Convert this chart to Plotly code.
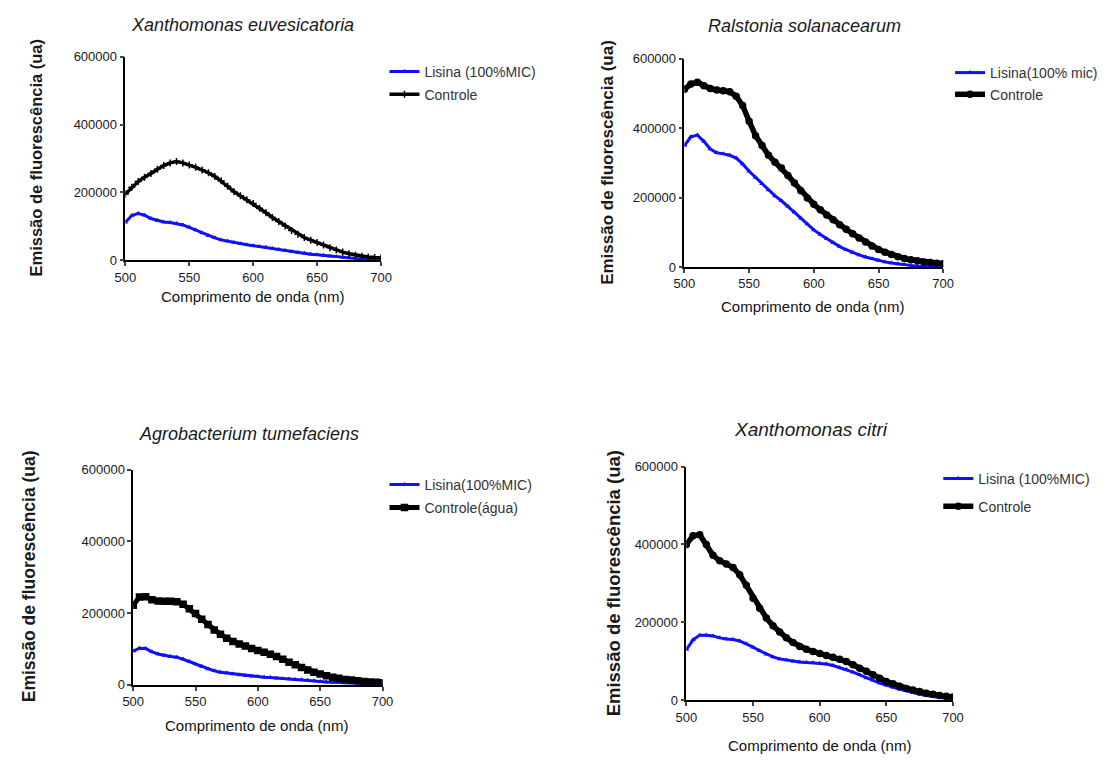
import plotly.graph_objects as go

# ---------------- data ----------------
wavelength = list(range(500, 701, 5))

# Panel 1: Xanthomonas euvesicatoria
xe_lisina = [112000, 132000, 138000, 133000, 123000, 117000, 113000, 111000, 108000, 104000,
             97000, 89000, 80000, 72000, 66000, 60000, 56000, 52000, 49000, 46000,
             43000, 40000, 38000, 35000, 32000, 29000, 26000, 23000, 21000, 18000,
             16000, 14000, 12000, 10000, 8500, 7000, 5500, 4500, 3500, 3000, 2500]
xe_controle = [195000, 215000, 232000, 245000, 256000, 268000, 279000, 287000, 291000, 287000,
               281000, 274000, 266000, 258000, 247000, 234000, 218000, 202000, 190000, 178000,
               167000, 153000, 140000, 126000, 114000, 101000, 88000, 77000, 67000, 59000,
               52000, 45000, 37000, 30000, 24000, 19000, 15000, 12000, 9500, 8000, 7000]

# Panel 2: Ralstonia solanacearum
rs_lisina = [350000, 375000, 380000, 362000, 340000, 329000, 326000, 322000, 314000, 297000,
             276000, 258000, 240000, 222000, 205000, 191000, 175000, 158000, 141000, 124000,
             107000, 94000, 82000, 70000, 59000, 50000, 42000, 35000, 29000, 24000,
             19000, 15000, 12000, 9000, 7000, 5000, 3500, 2500, 1500, 1000, 1000]
rs_controle = [512000, 527000, 532000, 522000, 514000, 510000, 508000, 505000, 492000, 465000,
               420000, 378000, 350000, 322000, 302000, 285000, 264000, 242000, 220000, 199000,
               181000, 165000, 150000, 136000, 122000, 109000, 96000, 84000, 72000, 61000,
               51000, 43000, 36000, 30000, 25000, 21000, 18000, 15000, 13000, 11000, 10000]

# Panel 3: Agrobacterium tumefaciens
at_lisina = [94000, 102000, 101000, 92000, 86000, 82000, 79000, 77000, 72000, 65000,
             58000, 51000, 44000, 39000, 35000, 33000, 30000, 27000, 25000, 24000,
             23000, 21000, 20000, 18000, 17000, 16000, 15000, 14000, 12500, 11000,
             9500, 8000, 7000, 6000, 5000, 4000, 3500, 3000, 2500, 2000, 2000]
at_controle = [222000, 245000, 246000, 237000, 234000, 233000, 233000, 232000, 225000, 212000,
               199000, 183000, 168000, 153000, 141000, 130000, 121000, 114000, 108000, 101000,
               96000, 91000, 85000, 79000, 71000, 63000, 56000, 48000, 41000, 35000,
               30000, 25000, 21000, 18000, 15000, 13000, 11000, 9000, 8000, 7000, 6000]

# Panel 4: Xanthomonas citri
xc_lisina = [130000, 155000, 167000, 167000, 165000, 160000, 157000, 156000, 152000, 145000,
             136000, 127000, 118000, 111000, 106000, 103000, 100000, 98000, 97000, 96000,
             95000, 93000, 89000, 84000, 79000, 72000, 65000, 57000, 51000, 44000,
             38000, 33000, 28000, 24000, 19000, 15000, 12000, 9000, 7000, 5000, 4000]
xc_controle = [400000, 422000, 425000, 400000, 372000, 358000, 350000, 341000, 322000, 295000,
               262000, 236000, 211000, 191000, 175000, 160000, 148000, 138000, 131000, 125000,
               120000, 115000, 110000, 105000, 99000, 91000, 82000, 74000, 65000, 56000,
               48000, 42000, 36000, 30000, 26000, 22000, 18000, 15000, 12000, 10000, 8000]

titles = ["Xanthomonas euvesicatoria", "Ralstonia solanacearum",
          "Agrobacterium tumefaciens", "Xanthomonas citri"]
lisina_names = ["Lisina (100%MIC)", "Lisina(100% mic)", "Lisina(100%MIC)", "Lisina (100%MIC)"]
controle_names = ["Controle", "Controle", "Controle(água)", "Controle"]
x_ticks = [500, 550, 600, 650, 700]
y_ticks = [0, 200000, 400000, 600000]
x_title = "Comprimento de onda (nm)"
y_title = "Emissão de fluorescência (ua)"

panels = [
    (xe_lisina, xe_controle),
    (rs_lisina, rs_controle),
    (at_lisina, at_controle),
    (xc_lisina, xc_controle),
]

# ---------------- layout geometry (pixels) ----------------
W, H = 1113, 767
# (left, right, top, bottom) of each plot area in px
areas = [
    (116.7, 377.5, 50.7, 258.3),
    (687.0, 951.0, 52.7, 265.3),
    (124.7, 379.0, 472.0, 691.3),
    (689.0, 961.0, 468.7, 707.0),
]
title_pos = [(236, 18, 18), (810, 19, 18), (243, 436, 18), (816, 431, 19)]
ylab_pos = [(25, 154, 16.5), (609, 158, 17), (18, 581, 17.5), (615, 588, 18.5)]
xlab_pos = [(246, 295), (818, 305), (250, 733), (825, 753)]
legend_pos = [(423, 66), (1000, 67), (423, 487), (988, 481)]
legend_gaps = [1.5, 0.5, 2, 6.5]
black_symbols = ["cross-thin", "circle", "square", "circle"]
black_widths = [3.5, 5.5, 5, 5.5]
black_sizes = [5, 6, 6, 6]

FONT = "Liberation Sans, Arial, sans-serif"
BLUE = "#1010ff"
TXT = "#1a1a1a"

def px_x(v):
    return v / W

def px_y(v):
    return 1 - v / H

fig = go.Figure()
annotations = []
layout = dict(
    width=W, height=H,
    margin=dict(l=0, r=0, t=0, b=0),
    paper_bgcolor="white", plot_bgcolor="white",
    showlegend=True,
    font=dict(family=FONT, color=TXT),
)

for i, (lis, con) in enumerate(panels):
    n = i + 1
    xa = "x" if n == 1 else f"x{n}"
    ya = "y" if n == 1 else f"y{n}"
    leg = "legend" if n == 1 else f"legend{n}"
    fig.add_trace(go.Scatter(
        x=wavelength, y=lis, mode="lines+markers", name=lisina_names[i],
        xaxis=xa, yaxis=ya, legend=leg, legendgroup=f"lis{n}",
        line=dict(color=BLUE, width=3),
        marker=dict(symbol="triangle-up", size=5, color=BLUE),
    ))
    fig.add_trace(go.Scatter(
        x=wavelength, y=con, mode="lines+markers", name=controle_names[i],
        xaxis=xa, yaxis=ya, legend=leg, legendgroup=f"con{n}",
        line=dict(color="black", width=black_widths[i]),
        marker=dict(symbol=black_symbols[i], size=black_sizes[i], color="black",
                    line=dict(color="black", width=1.5)),
    ))
    l, r, t, b = areas[i]
    xkey = "xaxis" if n == 1 else f"xaxis{n}"
    ykey = "yaxis" if n == 1 else f"yaxis{n}"
    layout[xkey] = dict(
        domain=[px_x(l), px_x(r)], anchor=ya, range=[500, 700],
        tickvals=x_ticks, ticks="outside", ticklen=4, tickwidth=1.5,
        showline=True, linecolor="black", linewidth=1.5,
        showgrid=False, zeroline=False,
        tickfont=dict(family=FONT, size=13, color=TXT),
    )
    layout[ykey] = dict(
        domain=[px_y(b), px_y(t)], anchor=xa, range=[0, 600000],
        tickvals=y_ticks, tickformat="d", ticks="outside", ticklen=4, tickwidth=1.5,
        showline=True, linecolor="black", linewidth=1.5,
        showgrid=False, zeroline=False,
        tickfont=dict(family=FONT, size=13, color=TXT),
    )
    lx, ly = legend_pos[i]
    layout[leg] = dict(
        x=px_x(lx - 42), y=px_y(ly - 16), xanchor="left", yanchor="top",
        bgcolor="rgba(0,0,0,0)", itemwidth=30,
        font=dict(family=FONT, size=14, color="#333333"),
        tracegroupgap=legend_gaps[i],
    )
    tx, ty, ts = title_pos[i]
    annotations.append(dict(
        text=f"<i>{titles[i]}</i>", x=px_x(tx), y=px_y(ty), xref="paper", yref="paper",
        showarrow=False, xanchor="center", yanchor="middle",
        font=dict(family=FONT, size=ts, color=TXT),
    ))
    yx, yy, ys = ylab_pos[i]
    annotations.append(dict(
        text=f"<b>{y_title}</b>", x=px_x(yx), y=px_y(yy), xref="paper", yref="paper",
        showarrow=False, xanchor="center", yanchor="middle", textangle=-90,
        font=dict(family=FONT, size=ys, color=TXT),
    ))
    xx, xy = xlab_pos[i]
    annotations.append(dict(
        text=x_title, x=px_x(xx), y=px_y(xy), xref="paper", yref="paper",
        showarrow=False, xanchor="center", yanchor="middle",
        font=dict(family=FONT, size=15, color="#111111"),
    ))

layout["annotations"] = annotations
fig.update_layout(**layout)
fig.write_html(
    "out.html",
    config={"displayModeBar": False},
    post_script="document.body.style.margin='0';document.body.style.overflow='hidden';",
)
